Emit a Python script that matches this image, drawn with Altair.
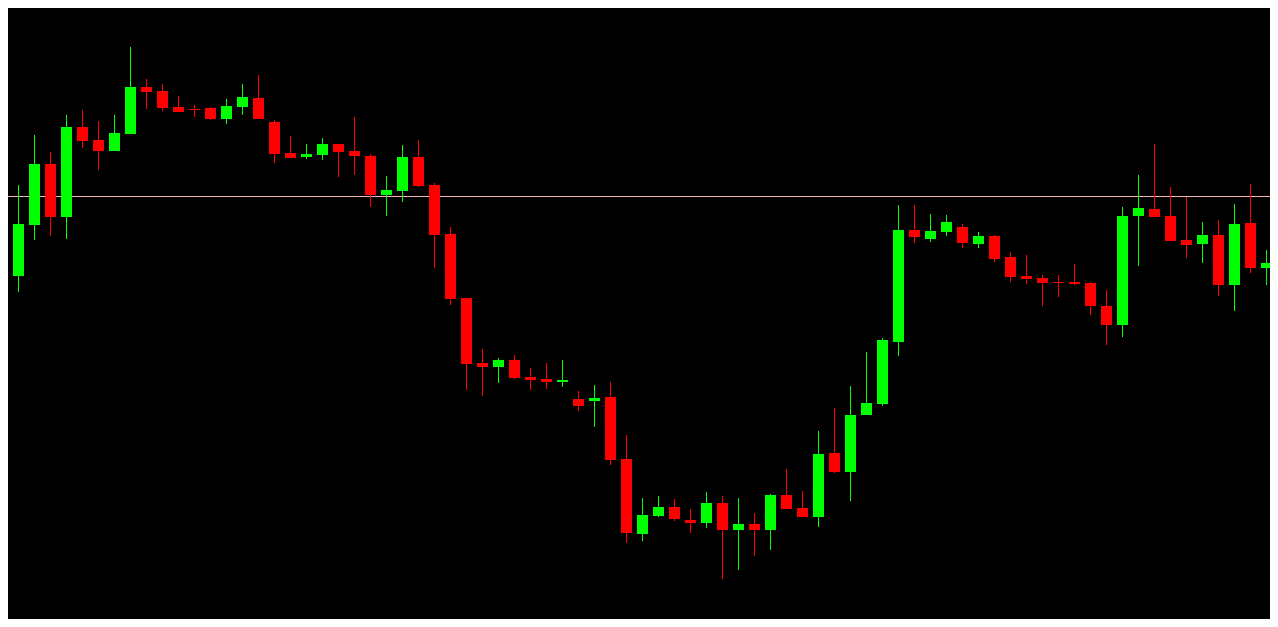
import altair as alt
import pandas as pd

# Candle values, on a chart level scale that grows downward
# (smaller number = higher on the chart).
candle = list(range(81))
open_ = [273, 276, 225, 164, 217, 127, 140, 151, 134, 87,
         91, 107, 109, 108, 119, 107, 98, 122, 153, 157,
         155, 144, 151, 156, 195, 191, 157, 185, 234, 298,
         363, 367, 360, 377, 379, 382, 399, 401, 397, 459,
         534, 516, 507, 520, 523, 503, 530, 524, 530, 495,
         508, 517, 453, 472, 415, 404, 342, 230, 239, 232,
         227, 244, 236, 257, 276, 278, 282, 282, 283, 306,
         325, 216, 209, 216, 240, 244, 235, 285, 223, 268,
         264]
high = [233, 185, 135, 152, 115, 110, 121, 115, 47, 79,
        84, 96, 105, 107, 99, 84, 75, 120, 136, 144,
        138, 144, 117, 154, 176, 145, 140, 183, 227, 298,
        349, 358, 355, 368, 363, 360, 391, 385, 382, 435,
        498, 496, 499, 509, 492, 496, 498, 513, 494, 469,
        491, 431, 408, 386, 352, 338, 205, 205, 214, 215,
        224, 232, 235, 252, 255, 275, 275, 264, 282, 290,
        207, 175, 144, 187, 197, 222, 220, 204, 184, 250,
        230]
low = [317, 292, 240, 236, 239, 148, 170, 151, 134, 109,
       111, 112, 117, 120, 124, 115, 119, 163, 158, 159,
       160, 177, 175, 207, 216, 202, 187, 268, 305, 390,
       396, 383, 379, 390, 389, 387, 411, 427, 465, 543,
       541, 517, 521, 533, 528, 579, 570, 556, 550, 509,
       517, 527, 473, 501, 415, 406, 356, 243, 242, 236,
       248, 248, 262, 282, 284, 306, 297, 285, 315, 345,
       337, 266, 217, 241, 258, 263, 296, 311, 273, 285,
       270]
close = [276, 224, 164, 217, 127, 141, 151, 133, 87, 92,
         108, 112, 110, 119, 106, 97, 119, 154, 158, 154,
         144, 152, 156, 195, 190, 157, 186, 235, 299, 364,
         367, 360, 378, 380, 382, 380, 406, 398, 460, 533,
         515, 507, 519, 523, 503, 530, 524, 530, 495, 509,
         517, 454, 472, 415, 403, 340, 230, 237, 231, 222,
         243, 236, 259, 277, 279, 283, 283, 284, 306, 325,
         216, 208, 217, 241, 245, 235, 285, 224, 268, 263,
         237]
price_line_level = [196.5]

df = pd.DataFrame({"candle": candle, "open": open_, "high": high,
                   "low": low, "close": close})
df["dir"] = ["up" if c < o else "down" for o, c in zip(open_, close)]
line_df = pd.DataFrame({"level": price_line_level})

W, H = 1262, 611
xscale = alt.Scale(domain=[0.34375, 79.21875], nice=False, zero=False, padding=0)
yscale = alt.Scale(domain=[8, 619], reverse=True, nice=False, zero=False, padding=0)
color = alt.Color("dir:N", scale=alt.Scale(domain=["up", "down"], range=["#00ff00", "#ff0000"]), legend=None)

base = alt.Chart(df)

wicks = base.mark_rule(strokeWidth=1, clip=True).encode(
    x=alt.X("candle:Q", scale=xscale, axis=None),
    y=alt.Y("high:Q", scale=yscale, axis=None),
    y2="low:Q",
    color=color,
)

bodies = base.mark_bar(size=11, clip=True, strokeWidth=0).encode(
    x=alt.X("candle:Q", scale=xscale, axis=None),
    y=alt.Y("open:Q", scale=yscale, axis=None),
    y2="close:Q",
    color=color,
)

hline = alt.Chart(line_df).mark_rule(color="#f4b6b6", strokeWidth=1, clip=True).encode(
    y=alt.Y("level:Q", scale=yscale, axis=None),
)

chart = alt.layer(hline, wicks, bodies).properties(
    width=W, height=H,
    autosize=alt.AutoSizeParams(type="none"),
    padding=0,
    background="#000000",
).configure_view(strokeWidth=0)

chart.save("out.html", embed_options={"renderer": "svg", "actions": False})
